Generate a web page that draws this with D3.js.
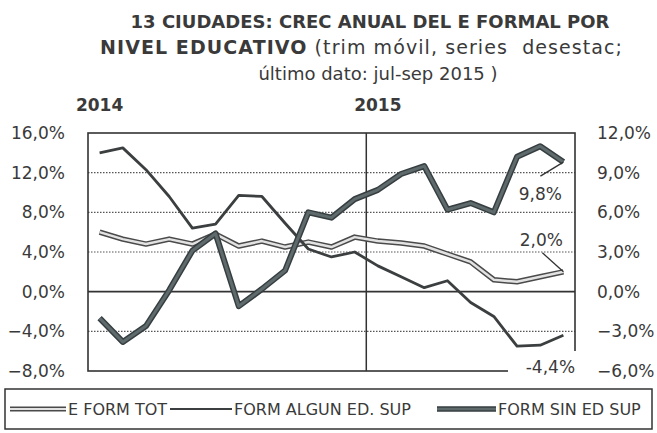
<!DOCTYPE html>
<html>
<head>
<meta charset="utf-8">
<script src="https://cdn.jsdelivr.net/npm/d3@7"></script>
<style>
  body { margin: 0; background: #fff; }
  text { font-family: "DejaVu Sans", Verdana, sans-serif; fill: #3a3a3a; }
</style>
</head>
<body>
<div id="chart"></div>
<script>
// rolling quarters, ene-14 .. sep-15 (only the years are shown on the chart)
var categories = ["ene-14","feb-14","mar-14","abr-14","may-14","jun-14","jul-14","ago-14","sep-14","oct-14","nov-14","dic-14",
                  "ene-15","feb-15","mar-15","abr-15","may-15","jun-15","jul-15","ago-15","sep-15"];

// left axis series (%)
var formTot    = [6.0,5.3,4.8,5.3,4.8,5.8,4.6,5.1,4.5,5.0,4.5,5.5,5.1,4.9,4.6,3.8,3.0,1.2,1.0,1.5,2.0];
var algunEdSup = [14.0,14.5,12.3,9.6,6.4,6.8,9.7,9.6,6.9,4.3,3.5,4.0,2.6,1.5,0.4,1.1,-1.1,-2.5,-5.5,-5.4,-4.4];
// right axis series (%)
var sinEdSup   = [-2.0,-3.8,-2.6,0.1,3.1,4.4,-1.1,0.2,1.6,6.0,5.6,7.0,7.7,8.9,9.5,6.2,6.7,6.0,10.2,11.0,9.8];

var leftTicks  = [-8,-4,0,4,8,12,16];
var rightTicks = [-6,-3,0,3,6,9,12];
var yearLabels = [{year:"2014", at:"ene-14"}, {year:"2015", at:"ene-15"}];

var svgWidth = 657, svgHeight = 433;
var margin = {top: 133, right: 82, bottom: 62, left: 88};
var width = svgWidth - margin.left - margin.right;
var height = svgHeight - margin.top - margin.bottom;

var svg = d3.select("#chart").append("svg")
    .attr("width", svgWidth)
    .attr("height", svgHeight);

// title, three lines
svg.append("text").attr("text-anchor", "middle").style("font-size", "18px")
    .attr("x", 370).attr("y", 28).style("font-weight", "bold")
    .text("13 CIUDADES: CREC ANUAL DEL E FORMAL POR");
var t2 = svg.append("text").attr("text-anchor", "middle").style("font-size", "19px")
    .attr("xml:space", "preserve")
    .attr("x", 361).attr("y", 54)
    .attr("textLength", 522).attr("lengthAdjust", "spacing");
t2.append("tspan").style("font-weight", "bold").text("NIVEL EDUCATIVO");
t2.append("tspan").text(" (trim móvil, series\u00a0 desestac;");
svg.append("text").attr("text-anchor", "middle").style("font-size", "18px")
    .attr("x", 378).attr("y", 80).text("último dato: jul-sep 2015 )");

var chartGroup = svg.append("g")
    .attr("transform", `translate(${margin.left},${margin.top})`);

// scales
var x = d3.scaleBand().domain(categories).range([0, width]);
var xc = d => x(d) + x.bandwidth() / 2;
var yLeft = d3.scaleLinear().domain([-8, 16]).range([height, 0]);
var yRight = d3.scaleLinear().domain([-6, 12]).range([height, 0]);

// dotted gridlines
chartGroup.selectAll(".grid")
    .data(leftTicks.filter(d => d !== 0 && d !== 16 && d !== -8))
    .enter().append("line")
    .attr("x1", 0).attr("x2", width)
    .attr("y1", d => yLeft(d)).attr("y2", d => yLeft(d))
    .attr("stroke", "#555").attr("stroke-width", 1.2)
    .attr("stroke-dasharray", "1.5,1.5");

// zero line
chartGroup.append("line")
    .attr("x1", 0).attr("x2", width)
    .attr("y1", yLeft(0)).attr("y2", yLeft(0))
    .attr("stroke", "#333").attr("stroke-width", 1.6);

// year divider between dic-14 and ene-15
chartGroup.append("line")
    .attr("x1", x("ene-15")).attr("x2", x("ene-15"))
    .attr("y1", 0).attr("y2", height)
    .attr("stroke", "#333").attr("stroke-width", 1.5);

// plot frame
chartGroup.append("rect")
    .attr("width", width).attr("height", height)
    .attr("fill", "none").attr("stroke", "#333").attr("stroke-width", 1.6);

// axes (labels only, no tick marks)
var fmt = d => d3.format(".1f")(d).replace(".", ",") + "%";
var leftAxis = d3.axisLeft(yLeft).tickValues(leftTicks).tickSize(0).tickPadding(23).tickFormat(fmt);
var rightAxis = d3.axisRight(yRight).tickValues(rightTicks).tickSize(0).tickPadding(22).tickFormat(fmt);

chartGroup.append("g").call(leftAxis)
    .call(g => g.select(".domain").remove())
    .selectAll("text").style("font-size", "17px").attr("fill", "#3a3a3a")
    .style("font-family", "DejaVu Sans");
chartGroup.append("g").attr("transform", `translate(${width},0)`).call(rightAxis)
    .call(g => g.select(".domain").remove())
    .selectAll("text").style("font-size", "17px").attr("fill", "#3a3a3a")
    .style("font-family", "DejaVu Sans");

// year labels above the plot
chartGroup.selectAll(".year")
    .data(yearLabels)
    .enter().append("text")
    .attr("x", d => xc(d.at))
    .attr("y", -22)
    .attr("text-anchor", "middle")
    .style("font-size", "17px")
    .style("font-weight", "bold")
    .attr("fill", "#3a3a3a")
    .text(d => d.year);

// line generators
var lineLeft = d3.line().x((d, i) => xc(categories[i])).y(d => yLeft(d));
var lineRight = d3.line().x((d, i) => xc(categories[i])).y(d => yRight(d));

// E FORM TOT: double line
chartGroup.append("path").datum(formTot).attr("d", lineLeft)
    .attr("fill", "none").attr("stroke", "#4a4a4a").attr("stroke-width", 5.5)
    .attr("stroke-linejoin", "round");
chartGroup.append("path").datum(formTot).attr("d", lineLeft)
    .attr("fill", "none").attr("stroke", "#e2e2e2").attr("stroke-width", 2.5)
    .attr("stroke-linejoin", "round");

// FORM ALGUN ED. SUP: thin line
chartGroup.append("path").datum(algunEdSup).attr("d", lineLeft)
    .attr("fill", "none").attr("stroke", "#3c3f40").attr("stroke-width", 2.8)
    .attr("stroke-linejoin", "round");

// FORM SIN ED SUP: thick line on right axis
chartGroup.append("path").datum(sinEdSup).attr("d", lineRight)
    .attr("fill", "none").attr("stroke", "#363e40").attr("stroke-width", 6)
    .attr("stroke-linejoin", "round");
chartGroup.append("path").datum(sinEdSup).attr("d", lineRight)
    .attr("fill", "none").attr("stroke", "#5e6a6c").attr("stroke-width", 3)
    .attr("stroke-linejoin", "round");

// end labels with leader lines
var last = categories.length - 1;
var lx = xc(categories[last]);

function endLabel(txt, px, py, tx, ty, lineFrom) {
    if (lineFrom) {
        chartGroup.append("line")
            .attr("x1", lineFrom[0]).attr("y1", lineFrom[1])
            .attr("x2", px).attr("y2", py)
            .attr("stroke", "#333").attr("stroke-width", 1.3);
    }
    chartGroup.append("text")
        .attr("x", tx).attr("y", ty)
        .attr("text-anchor", "middle")
        .style("font-size", "17px")
        .attr("fill", "#3a3a3a")
        .text(txt);
}

var pSin = [lx, yRight(sinEdSup[last])];
endLabel("9,8%", pSin[0], pSin[1], lx - 23, pSin[1] + 38, [lx - 23, pSin[1] + 14]);

var pTot = [lx, yLeft(formTot[last])];
endLabel("2,0%", pTot[0], pTot[1], lx - 22, pTot[1] - 26, [lx - 21, pTot[1] - 19]);

// -4,4% sits on a white patch over the frame corner
var pAlg = [lx, yLeft(algunEdSup[last])];
chartGroup.append("rect")
    .attr("x", width - 67).attr("y", height - 20)
    .attr("width", 76).attr("height", 30)
    .attr("fill", "#fff");
endLabel("-4,4%", pAlg[0], pAlg[1], lx - 13, height + 2, null);

// legend
var legendItems = [
    {name: "E FORM TOT", kind: "double", x0: 10, x1: 66, tx: 68},
    {name: "FORM ALGUN ED. SUP", kind: "thin", x0: 170, x1: 232, tx: 234},
    {name: "FORM SIN ED SUP", kind: "thick", x0: 437, x1: 496, tx: 498}
];

var legend = svg.append("g");
legend.append("rect")
    .attr("x", 5).attr("y", 389).attr("width", 647).attr("height", 40)
    .attr("fill", "#fff").attr("stroke", "#333").attr("stroke-width", 1.5);

var ly = 409;
legendItems.forEach(function(item) {
    if (item.kind === "double") {
        legend.append("line").attr("x1", item.x0).attr("x2", item.x1).attr("y1", ly).attr("y2", ly)
            .attr("stroke", "#4a4a4a").attr("stroke-width", 5);
        legend.append("line").attr("x1", item.x0).attr("x2", item.x1).attr("y1", ly).attr("y2", ly)
            .attr("stroke", "#e2e2e2").attr("stroke-width", 2);
    } else if (item.kind === "thin") {
        legend.append("line").attr("x1", item.x0).attr("x2", item.x1).attr("y1", ly).attr("y2", ly)
            .attr("stroke", "#3c3f40").attr("stroke-width", 2.2);
    } else {
        legend.append("line").attr("x1", item.x0).attr("x2", item.x1).attr("y1", ly).attr("y2", ly)
            .attr("stroke", "#363e40").attr("stroke-width", 5.5);
        legend.append("line").attr("x1", item.x0).attr("x2", item.x1).attr("y1", ly).attr("y2", ly)
            .attr("stroke", "#5e6a6c").attr("stroke-width", 2.5);
    }
    legend.append("text")
        .attr("x", item.tx).attr("y", ly + 6)
        .style("font-size", "16px")
        .attr("fill", "#3a3a3a")
        .text(item.name);
});
</script>
</body>
</html>
